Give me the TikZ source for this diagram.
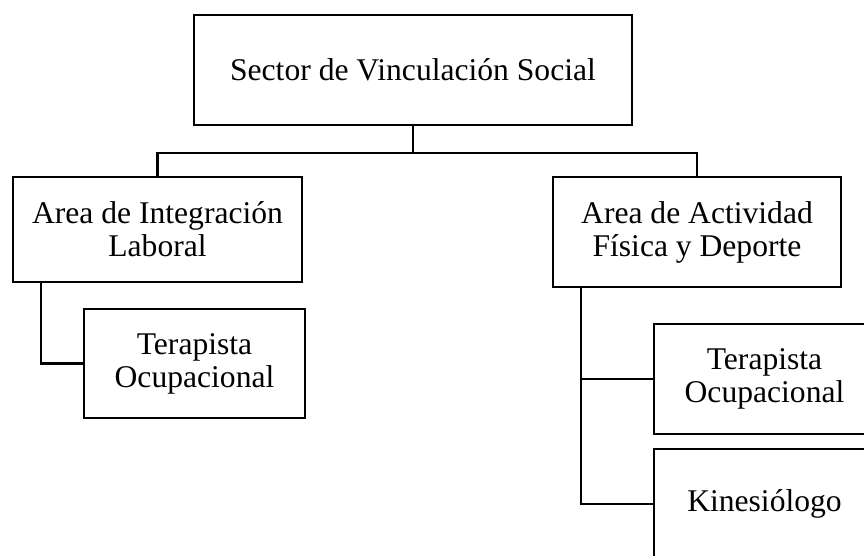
\documentclass[tikz,border=0pt]{standalone}
\usepackage{fontspec}
\setmainfont{Liberation Serif}

\begin{document}
\begin{tikzpicture}[x=1pt,y=-1pt,line width=2.4pt]
  \tikzset{caja/.style={draw,rectangle,align=center,inner sep=0pt,
      font=\fontsize{31.6}{33}\selectfont}}
  \clip (0,0) rectangle (864,555);
  \node (sector) at (413,70) [caja,minimum width=438pt,minimum height=110pt] {Sector de Vinculación Social};
  \node (integ) at (157.5,229.5) [caja,minimum width=289pt,minimum height=105pt] {Area de Integración\\Laboral};
  \node (activ) at (697,232) [caja,minimum width=288pt,minimum height=110pt] {Area de Actividad\\Física y Deporte};
  \node (ter1) at (194.5,363.5) [caja,minimum width=221pt,minimum height=109pt] {Terapista\\Ocupacional};
  \node (ter2) at (764.5,379) [caja,minimum width=221pt,minimum height=110pt] {Terapista\\Ocupacional};
  \node (kine) at (764.5,504) [caja,minimum width=221pt,minimum height=110pt] {Kinesiólogo};
  \coordinate (bus) at (413,153);
  \draw (sector.south) -- (bus);
  \draw (integ.north) |- (bus) -| (activ.north);
  \draw ([xshift=29pt]integ.south west) |- (ter1.west);
  \draw ([xshift=29pt]activ.south west) |- (ter2.west);
  \draw ([xshift=29pt]activ.south west) |- (kine.west);
\end{tikzpicture}
\end{document}
